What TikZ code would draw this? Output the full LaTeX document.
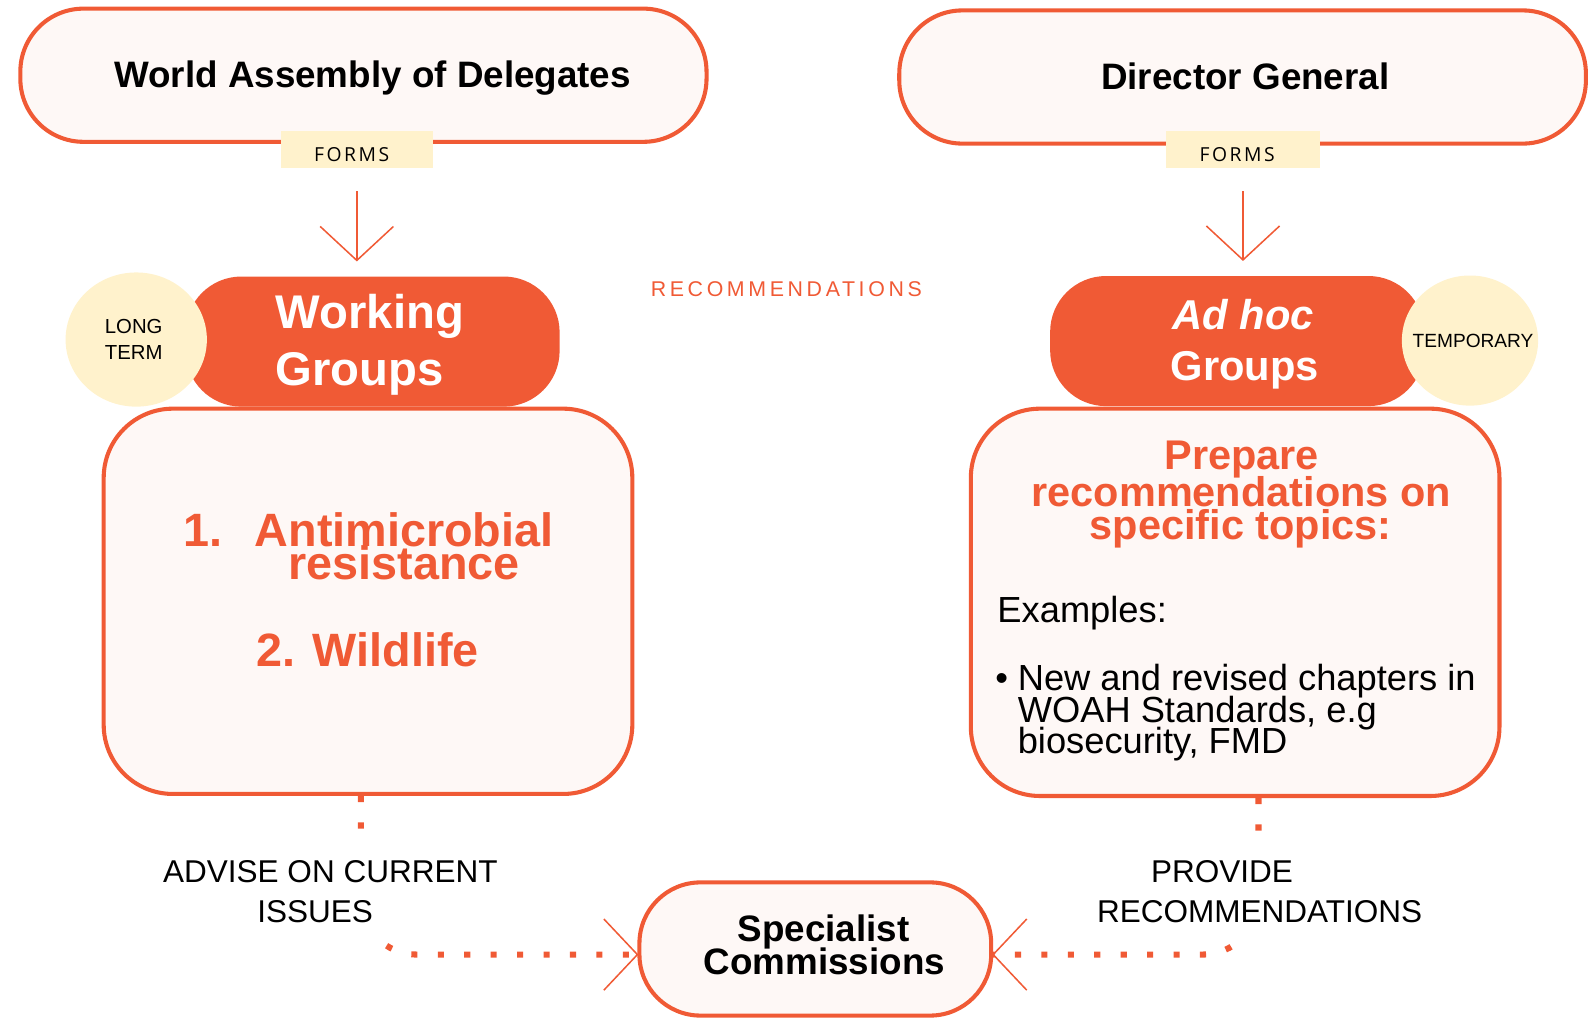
\documentclass[tikz,border=0pt]{standalone}
\usepackage{fontspec}
\setmainfont{Liberation Sans}
\newfontfamily\formsfont{Open Sans}[LetterSpace=13]
\newfontfamily\recfont{Liberation Sans}[LetterSpace=17]
\usetikzlibrary{shapes.geometric,arrows.meta}
\definecolor{woaOrange}{HTML}{F05A35}
\definecolor{woaPink}{HTML}{FEF8F6}
\definecolor{woaCream}{HTML}{FFF2CC}
\newcommand{\fsz}[2]{\fontsize{#1pt}{#2pt}\selectfont}
\begin{document}
\begin{tikzpicture}[x=1pt,y=-1pt,
  bigbox/.style={draw=woaOrange, line width=4pt, fill=woaPink, inner sep=0pt},
  pillshape/.style={fill=woaOrange, rounded corners=55pt, inner sep=0pt, minimum height=128pt},
  bubble/.style={ellipse, fill=woaCream, inner sep=0pt},
  formsbox/.style={fill=woaCream, inner sep=0pt, minimum height=36pt},
  formstext/.style={font=\formsfont\fsz{19}{19}, text=black, inner sep=0pt, anchor=base},
  formarrow/.style={draw=woaOrange, line width=1.5pt, -{Straight Barb[length=33.4pt,width=72pt]}},
  dotconn/.style={draw=woaOrange, line width=6pt, dash pattern=on 6pt off 20pt, rounded corners=55pt},
  barbline/.style={draw=woaOrange, line width=1.5pt},
  txt/.style={inner sep=0pt, anchor=base},
  titletxt/.style={txt, font=\bfseries\fsz{36.2}{36.2}},
  pilltxt/.style={txt, text=white, font=\bfseries\fsz{46.5}{46.5}},
  pilltxtb/.style={txt, text=white, font=\bfseries\fsz{41}{41}},
  bigred/.style={txt, text=woaOrange, font=\bfseries\fsz{46}{46}},
  redhead/.style={txt, text=woaOrange, font=\bfseries\fsz{40.8}{40.8}},
  bodytxt/.style={txt, font=\fsz{35.7}{35.7}},
  bubtxt/.style={txt, font=\fsz{20}{20}},
  lbl/.style={align=center, fill=white, inner xsep=4pt, inner ysep=15pt, font=\fsz{31}{39.5}},
]
\useasboundingbox (0,0) rectangle (1568,1002);

% top boxes
\node[bigbox, rounded corners=62pt, minimum width=675pt, minimum height=131pt] (wad) at (357.5,74) {};
\node[bigbox, rounded corners=62pt, minimum width=675.4pt, minimum height=131pt] (dg) at (1222.3,75.75) {};
\node[titletxt] (wadt) at (366.5,86) {World Assembly of Delegates};
\node[titletxt] (dgt) at (1225,88) {Director General};

% FORMS tags
\node[formsbox, minimum width=150pt] (forms1) at (351,147) {};
\node[formsbox, minimum width=151.5pt] (forms2) at (1222.7,147) {};
\node[formstext] (forms1t) at (346,158.4) {FORMS};
\node[formstext] (forms2t) at (1217,158.4) {FORMS};

% group pills
\node[pillshape, minimum width=368pt] (wg) at (366.5,336) {};
\node[pillshape, minimum width=368pt] (ah) at (1217,335.5) {};
\node[bubble, minimum width=139pt, minimum height=132pt] (lt) at (134,334) {};
\node[bubble, minimum width=134pt, minimum height=128pt] (tmp) at (1446,335) {};

% forms arrows
\draw[formarrow, shorten <=23pt, shorten >=14.6pt] (forms1.south) -- (forms1.south |- wg.north);
\draw[formarrow, shorten <=23pt, shorten >=14.6pt] (forms2.south) -- (forms2.south |- ah.north);

\node[pilltxt, anchor=base west] (wgt1) at (271,323) {Working};
\node[pilltxt, anchor=base west] (wgt2) at (271,379) {Groups};
\node[bubtxt, anchor=base west] (ltt1) at (103,328.5) {LONG};
\node[bubtxt, anchor=base west] (ltt2) at (103,354) {TERM};
\node[pilltxtb, font=\bfseries\itshape\fsz{41}{41}] (aht1) at (1223,324.6) {Ad hoc};
\node[pilltxtb] (aht2) at (1224.5,374) {Groups};
\node[txt, font=\fsz{18.8}{18.8}] (tmpt) at (1449,342) {TEMPORARY};

% recommendations
\node[txt, text=woaOrange, font=\recfont\fsz{21}{21}] (rec) at (773.5,292) {RECOMMENDATIONS};

% content boxes
\node[bigbox, rounded corners=68pt, minimum width=520pt, minimum height=379pt] (wl) at (362,591.5) {};
\node[bigbox, rounded corners=68pt, minimum width=520pt, minimum height=381pt] (wr) at (1215,592.5) {};

\node[bigred, anchor=base west] (n1) at (180,538) {1.};
\node[bigred] (amr1) at (397.5,538) {Antimicrobial};
\node[bigred] (amr2) at (397.5,570.5) {resistance};
\node[bigred] (wild) at (361.5,656) {2. Wildlife};

\node[redhead] (pr1) at (1221.5,462) {Prepare};
\node[redhead] (pr2) at (1221,498.5) {recommendations on};
\node[redhead] (pr3) at (1220.5,531) {specific topics:};
\node[bodytxt, anchor=base west] (ex) at (981,612) {Examples:};
\node[bodytxt, anchor=base west] (bul) at (979,679) {•};
\node[bodytxt, anchor=base west] (ex1) at (1001,679) {New and revised chapters in};
\node[bodytxt, anchor=base west] (ex2) at (1001,711) {WOAH Standards, e.g};
\node[bodytxt, anchor=base west] (ex3) at (1001,741) {biosecurity, FMD};

% specialist commissions and connectors
\node[bigbox, rounded corners=60pt, minimum width=346pt, minimum height=131pt] (spec) at (802,933.5) {};
\coordinate (specL) at ([yshift=-5.5pt]spec.west);
\coordinate (specR) at ([yshift=-5.5pt]spec.east);

\draw[dotconn] ([xshift=-7pt]wl.south) |- (specL);
\draw[dotconn] ([xshift=23pt]wr.south) |- (specR);

\node[lbl] (advise) at (325,877.4) {ADVISE ON CURRENT\\ISSUES\rule{30pt}{0pt}};
\node[lbl] (provide) at (1239,877.4) {PROVIDE\rule{74pt}{0pt}\\RECOMMENDATIONS};

\draw[barbline] (specL) ++(-33,-35) -- (specL) -- ++(-33,35);
\draw[barbline] (specR) ++(33,-35) -- (specR) -- ++(33,35);

\node[titletxt] (spect1) at (810,926.5) {Specialist};
\node[titletxt] (spect2) at (811,959) {Commissions};
\end{tikzpicture}
\end{document}
